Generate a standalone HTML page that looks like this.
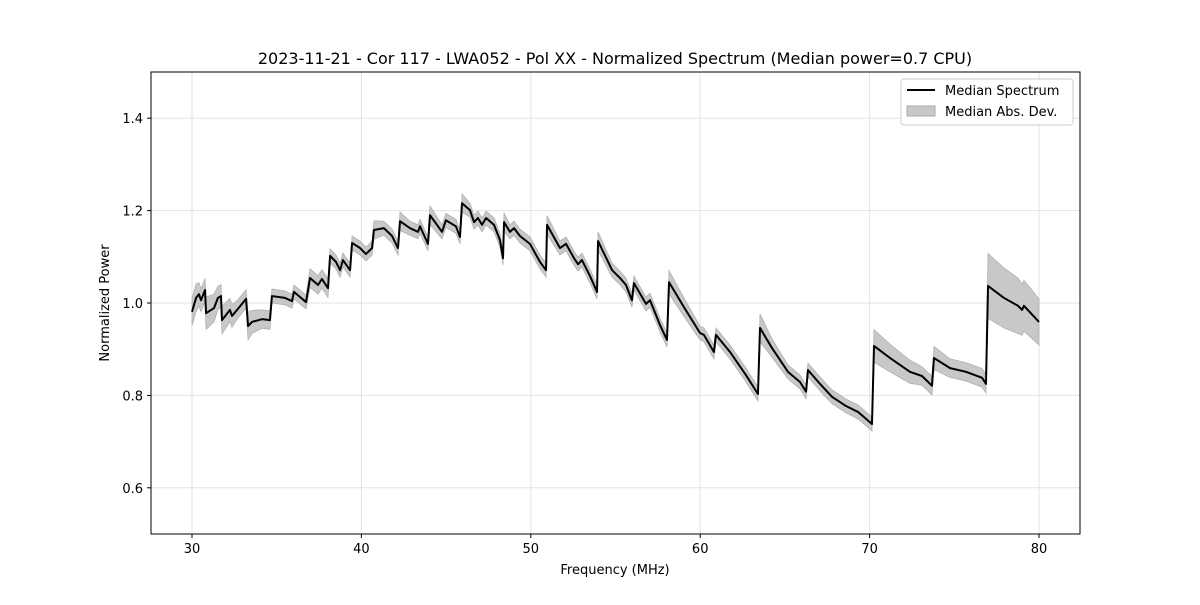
<!DOCTYPE html>
<html><head><meta charset="utf-8"><style>
body{margin:0;background:#fff;}
svg text{font-family:"DejaVu Sans","Liberation Sans",sans-serif;}
</style></head><body>
<svg id="chart" width="1200" height="600" xmlns="http://www.w3.org/2000/svg">
<rect width="1200" height="600" fill="#fff"/>
<text x="615" y="64" text-anchor="middle" font-size="16">2023-11-21 - Cor 117 - LWA052 - Pol XX - Normalized Spectrum (Median power=0.7 CPU)</text>
<g id="grid"></g><g id="band"></g><g id="line"></g><g id="axes"></g>
<text x="615" y="574" text-anchor="middle" font-size="13">Frequency (MHz)</text>
<text transform="translate(109,303) rotate(-90)" text-anchor="middle" font-size="13">Normalized Power</text>
<g>
<rect x="901" y="79" width="172" height="46" fill="#fff" stroke="#ccc" rx="3"/>
<line x1="907" y1="90" x2="935" y2="90" stroke="#000" stroke-width="2"/>
<text x="945" y="95" font-size="13">Median Spectrum</text>
<rect x="907" y="106" width="28" height="10" fill="#c8c8c8" stroke="#aaa"/>
<text x="945" y="116" font-size="13">Median Abs. Dev.</text>
</g>
</svg>
<script>
const freqs=[30.00,30.24,30.41,30.53,30.77,30.83,31.30,31.53,31.71,31.77,32.24,32.36,32.66,33.19,33.31,33.54,34.13,34.60,34.72,35.49,35.90,36.02,36.73,36.97,37.44,37.67,38.03,38.15,38.50,38.74,38.91,39.33,39.45,39.92,40.27,40.63,40.74,41.33,41.81,42.16,42.28,42.87,43.34,43.46,43.93,44.05,44.76,44.99,45.58,45.82,45.94,46.41,46.65,46.88,47.12,47.36,47.83,48.18,48.36,48.42,48.77,49.01,49.36,49.95,50.54,50.90,50.96,51.72,52.08,52.55,52.79,53.02,53.50,53.91,53.97,54.80,55.27,55.62,55.97,56.09,56.80,57.04,57.63,58.04,58.16,59.04,59.99,60.22,60.81,60.93,61.76,62.70,63.41,63.53,64.23,65.18,65.89,66.25,66.36,67.07,67.78,68.61,69.32,70.14,70.26,71.20,72.38,73.09,73.68,73.80,74.75,75.69,76.64,76.87,76.99,77.93,78.76,79.00,79.11,80.00];
const power=[0.981,1.011,1.019,1.006,1.028,0.978,0.989,1.011,1.015,0.963,0.985,0.972,0.985,1.009,0.950,0.959,0.965,0.963,1.015,1.011,1.004,1.024,1.002,1.054,1.039,1.052,1.032,1.102,1.089,1.071,1.093,1.071,1.130,1.119,1.106,1.119,1.158,1.162,1.145,1.119,1.177,1.162,1.154,1.166,1.128,1.190,1.154,1.179,1.166,1.143,1.216,1.201,1.175,1.184,1.169,1.184,1.169,1.136,1.097,1.175,1.154,1.162,1.145,1.128,1.089,1.071,1.169,1.119,1.128,1.097,1.084,1.093,1.058,1.024,1.134,1.071,1.054,1.039,1.006,1.043,0.998,1.006,0.952,0.920,1.045,0.991,0.935,0.931,0.894,0.931,0.894,0.844,0.803,0.946,0.903,0.851,0.829,0.808,0.855,0.825,0.797,0.777,0.764,0.738,0.907,0.881,0.851,0.842,0.821,0.881,0.859,0.851,0.838,0.825,1.037,1.011,0.994,0.985,0.994,0.959];
const mad=[0.03,0.03,0.025,0.025,0.025,0.035,0.03,0.025,0.025,0.03,0.025,0.025,0.02,0.02,0.03,0.025,0.02,0.02,0.015,0.015,0.015,0.015,0.015,0.02,0.02,0.02,0.02,0.015,0.015,0.015,0.015,0.015,0.015,0.015,0.015,0.015,0.02,0.015,0.015,0.015,0.02,0.015,0.015,0.015,0.015,0.02,0.015,0.015,0.015,0.015,0.02,0.015,0.015,0.015,0.015,0.015,0.015,0.015,0.015,0.02,0.015,0.015,0.015,0.015,0.015,0.015,0.02,0.015,0.015,0.015,0.015,0.015,0.015,0.015,0.02,0.015,0.015,0.015,0.015,0.015,0.015,0.015,0.015,0.015,0.025,0.02,0.015,0.015,0.015,0.015,0.015,0.015,0.015,0.03,0.02,0.015,0.015,0.015,0.015,0.015,0.015,0.015,0.015,0.015,0.035,0.03,0.025,0.02,0.02,0.025,0.02,0.02,0.02,0.02,0.07,0.065,0.06,0.055,0.055,0.05];
const xTicks=[30,40,50,60,70,80];
const yTicks=[0.6,0.8,1.0,1.2,1.4];
const yTickLabels=["0.6","0.8","1.0","1.2","1.4"];
const L=151,R=1080,T=72,B=534,xMin=27.58,xMax=82.42,yMin=0.5,yMax=1.5;
const X=f=>L+(f-xMin)/(xMax-xMin)*(R-L);
const Y=v=>B-(v-yMin)/(yMax-yMin)*(B-T);
const NS="http://www.w3.org/2000/svg";
function mk(tag,attrs,parent){const e=document.createElementNS(NS,tag);for(const k in attrs)e.setAttribute(k,attrs[k]);parent.appendChild(e);return e;}
const grid=document.getElementById('grid'),axes=document.getElementById('axes');
xTicks.forEach(t=>{
  const g=mk('line',{x1:X(t),x2:X(t),y1:T,y2:B,stroke:'#e3e3e3','stroke-width':1},grid);
  
  
  mk('line',{x1:X(t),x2:X(t),y1:B,y2:B+4,stroke:'#000'},axes);
  const tx=mk('text',{x:X(t),y:B+19,'text-anchor':'middle','font-size':13},axes);
  tx.textContent=t;
  
  
});
yTicks.forEach((t,i)=>{
  const g=mk('line',{x1:L,x2:R,y1:Y(t),y2:Y(t),stroke:'#e3e3e3','stroke-width':1},grid);
  
  
  mk('line',{x1:L-4,x2:L,y1:Y(t),y2:Y(t),stroke:'#000'},axes);
  const tx=mk('text',{x:L-8,y:Y(t)+5,'text-anchor':'end','font-size':13},axes);
  tx.textContent=yTickLabels[i];
  
  
});
const frame=mk('rect',{x:L,y:T,width:R-L,height:B-T,fill:'none',stroke:'#000','stroke-width':1},axes);


let up=freqs.map((f,i)=>X(f)+','+Y(power[i]+mad[i]));
let dn=freqs.map((f,i)=>X(f)+','+Y(power[i]-mad[i])).reverse();
const band=mk('polygon',{points:up.concat(dn).join(' '),fill:'#c8c8c8',stroke:'#b0b0b0','stroke-width':0.8},document.getElementById('band'));


const ln=mk('polyline',{points:freqs.map((f,i)=>X(f)+','+Y(power[i])).join(' '),fill:'none',stroke:'#000','stroke-width':2,'stroke-linejoin':'round'},document.getElementById('line'));


</script>
</body></html>
